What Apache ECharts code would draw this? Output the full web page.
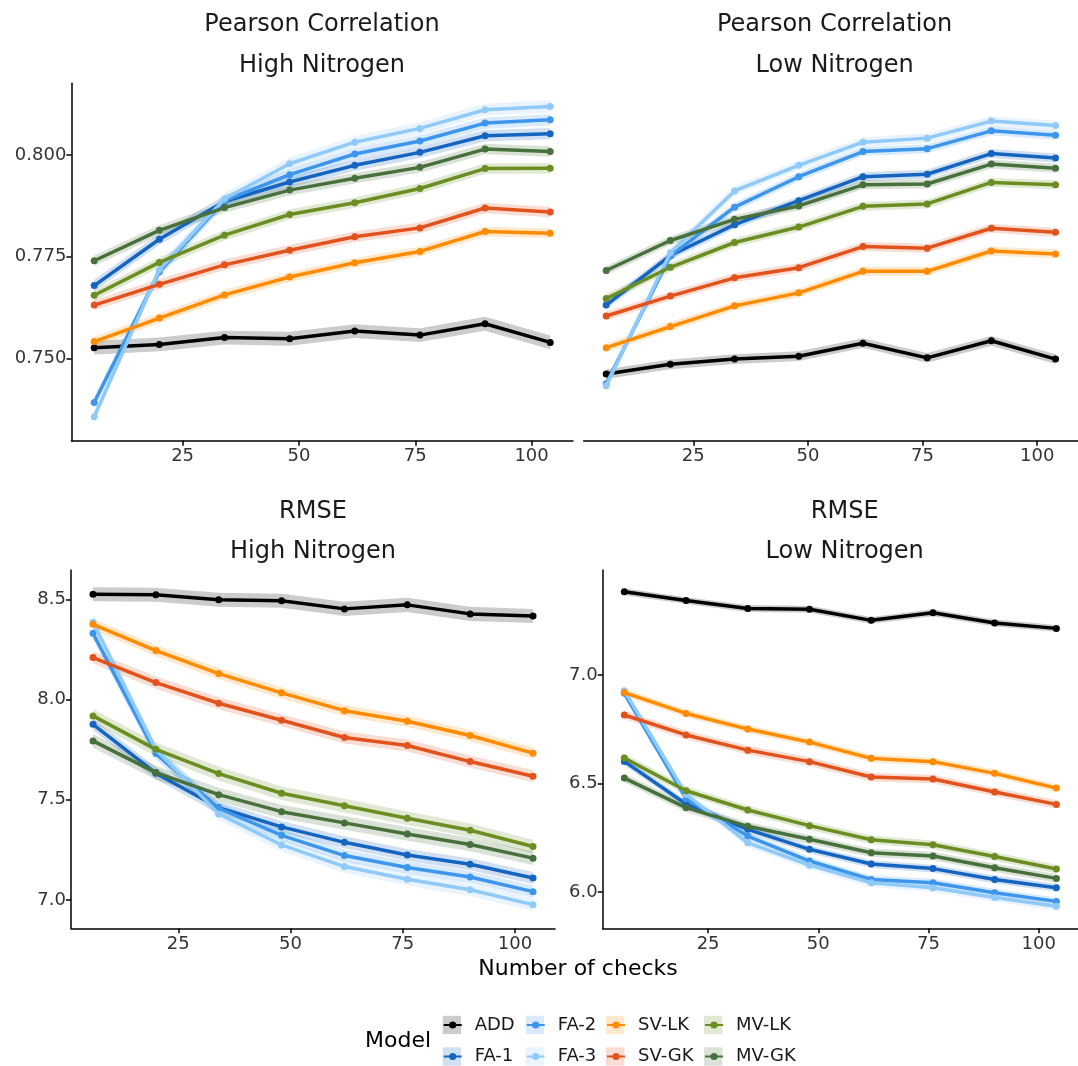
<!DOCTYPE html>
<html><head><meta charset="utf-8">
<script src="https://cdn.jsdelivr.net/npm/echarts@6/dist/echarts.min.js"></script>
<style>html,body{margin:0;padding:0;background:#fff}#c{width:1078px;height:1066px}</style>
</head><body><div id="c"></div>
<script>
// ---------- data ----------
const checks = [6, 20, 34, 48, 62, 76, 90, 104];
const models = ['ADD', 'FA-1', 'FA-2', 'FA-3', 'SV-LK', 'SV-GK', 'MV-LK', 'MV-GK'];
const modelColors = ['#000000', '#1565C0', '#3D96EC', '#90CAF9', '#FF8C00', '#E2521D', '#6B8E23', '#48703D'];

// Pearson correlation, High Nitrogen (one row per model)
const pearsonHigh = [
  [0.7526, 0.7534, 0.7551, 0.7548, 0.7567, 0.7557, 0.7585, 0.7539],
  [0.7679, 0.7793, 0.7886, 0.7934, 0.7975, 0.8007, 0.8048, 0.8053],
  [0.7391, 0.7713, 0.7888, 0.7952, 0.8003, 0.8035, 0.8079, 0.8087],
  [0.7356, 0.7718, 0.7892, 0.7979, 0.8032, 0.8066, 0.8112, 0.8120],
  [0.7541, 0.7599, 0.7656, 0.7700, 0.7735, 0.7763, 0.7812, 0.7808],
  [0.7631, 0.7682, 0.7730, 0.7766, 0.7799, 0.7821, 0.7870, 0.7860],
  [0.7655, 0.7736, 0.7803, 0.7854, 0.7883, 0.7918, 0.7967, 0.7968],
  [0.7740, 0.7815, 0.7871, 0.7914, 0.7943, 0.7970, 0.8015, 0.8009]
];
// Pearson correlation, Low Nitrogen
const pearsonLow = [
  [0.7461, 0.7485, 0.7498, 0.7505, 0.7537, 0.7501, 0.7543, 0.7498],
  [0.7631, 0.7753, 0.7829, 0.7888, 0.7947, 0.7953, 0.8004, 0.7993],
  [0.7437, 0.7752, 0.7872, 0.7947, 0.8009, 0.8016, 0.8060, 0.8049],
  [0.7432, 0.7760, 0.7912, 0.7975, 0.8032, 0.8042, 0.8084, 0.8073],
  [0.7526, 0.7578, 0.7629, 0.7661, 0.7714, 0.7714, 0.7764, 0.7757],
  [0.7604, 0.7653, 0.7698, 0.7723, 0.7775, 0.7771, 0.7820, 0.7810],
  [0.7647, 0.7724, 0.7785, 0.7823, 0.7874, 0.7880, 0.7933, 0.7927],
  [0.7716, 0.7790, 0.7842, 0.7875, 0.7927, 0.7929, 0.7978, 0.7968]
];
// RMSE, High Nitrogen
const rmseHigh = [
  [8.525, 8.523, 8.498, 8.492, 8.452, 8.472, 8.427, 8.417],
  [7.876, 7.632, 7.460, 7.364, 7.287, 7.224, 7.178, 7.109],
  [8.330, 7.730, 7.457, 7.322, 7.221, 7.161, 7.114, 7.041],
  [8.385, 7.750, 7.429, 7.274, 7.166, 7.103, 7.050, 6.976],
  [8.375, 8.244, 8.129, 8.033, 7.944, 7.891, 7.820, 7.732],
  [8.209, 8.084, 7.981, 7.896, 7.810, 7.770, 7.690, 7.617],
  [7.918, 7.751, 7.630, 7.532, 7.470, 7.407, 7.347, 7.266],
  [7.793, 7.635, 7.525, 7.440, 7.384, 7.329, 7.276, 7.208]
];
// RMSE, Low Nitrogen
const rmseLow = [
  [7.384, 7.343, 7.307, 7.303, 7.252, 7.287, 7.240, 7.215],
  [6.602, 6.406, 6.289, 6.197, 6.129, 6.108, 6.058, 6.020],
  [6.916, 6.430, 6.258, 6.143, 6.058, 6.043, 5.997, 5.957],
  [6.928, 6.450, 6.227, 6.124, 6.043, 6.020, 5.975, 5.935],
  [6.919, 6.823, 6.751, 6.691, 6.616, 6.601, 6.547, 6.479],
  [6.816, 6.724, 6.654, 6.601, 6.530, 6.521, 6.461, 6.404],
  [6.618, 6.467, 6.378, 6.306, 6.241, 6.218, 6.164, 6.106],
  [6.525, 6.389, 6.303, 6.243, 6.181, 6.166, 6.112, 6.063]
];
// confidence band half-widths (per model)
const ciPearsonHigh = [0.0017, 0.0014, 0.0014, 0.0015, 0.0012, 0.0013, 0.0013, 0.0013];
const ciPearsonLow  = [0.0012, 0.0011, 0.0011, 0.0012, 0.0011, 0.0011, 0.0011, 0.0011];
const ciRmseHigh    = [0.035, 0.030, 0.030, 0.032, 0.028, 0.030, 0.034, 0.034];
const ciRmseLow     = [0.016, 0.018, 0.018, 0.020, 0.018, 0.020, 0.020, 0.020];

const xTicks = [25, 50, 75, 100];
const pearsonTicks = [0.750, 0.775, 0.800];
const rmseHighTicks = [7.0, 7.5, 8.0, 8.5];
const rmseLowTicks = [6.0, 6.5, 7.0];

const panelTitles = ['Pearson Correlation\nHigh Nitrogen', 'Pearson Correlation\nLow Nitrogen', 'RMSE\nHigh Nitrogen', 'RMSE\nLow Nitrogen'];

// ---------- layout ----------
const FONT = 'DejaVu Sans';
const grids = [
  {left: 71.4, top: 83.3, width: 501.6, height: 357.4},
  {left: 583.7, top: 83.3, width: 502, height: 357.4},
  {left: 71, top: 570, width: 484, height: 358.3},
  {left: 602.7, top: 570, width: 484, height: 358.3}
];
const panels = [
  {vals: pearsonHigh, ci: ciPearsonHigh, ymin: 0.7297, ymax: 0.8177, ticks: pearsonTicks, dec: 3, showY: true},
  {vals: pearsonLow, ci: ciPearsonLow, ymin: 0.7297, ymax: 0.8177, ticks: pearsonTicks, dec: 3, showY: false},
  {vals: rmseHigh, ci: ciRmseHigh, ymin: 6.858, ymax: 8.646, ticks: rmseHighTicks, dec: 1, showY: true},
  {vals: rmseLow, ci: ciRmseLow, ymin: 5.833, ymax: 7.484, ticks: rmseLowTicks, dec: 1, showY: true}
];

const axisLine = {show: true, lineStyle: {color: '#000', width: 1.5}};
const axisTick = {show: true, length: 5, lineStyle: {color: '#000', width: 1.5}};

const xAxes = grids.map((g, i) => ({
  type: 'value', gridIndex: i, min: 1.1, max: 108.9,
  axisLine: axisLine,
  axisTick: Object.assign({customValues: xTicks}, axisTick),
  axisLabel: {customValues: xTicks, fontFamily: FONT, fontSize: 18, color: '#333', margin: 7},
  splitLine: {show: false}
}));
const yAxes = panels.map((p, i) => ({
  type: 'value', gridIndex: i, min: p.ymin, max: p.ymax, show: p.showY,
  axisLine: axisLine,
  axisTick: Object.assign({customValues: p.ticks}, axisTick),
  axisLabel: {customValues: p.ticks, fontFamily: FONT, fontSize: 18, color: '#333', margin: 5,
    formatter: v => Number(v).toFixed(p.dec)},
  splitLine: {show: false}
}));

function ribbon(gi, vals, half, color) {
  return {
    type: 'custom', xAxisIndex: gi, yAxisIndex: gi, z: 1, silent: true,
    data: checks.map((x, k) => [x, vals[k] - half, vals[k] + half]),
    encode: {x: 0, y: [1, 2]},
    renderItem: function (params, api) {
      if (params.dataIndex !== 0) return null;
      const up = [], lo = [];
      for (let k = 0; k < checks.length; k++) {
        up.push(api.coord([checks[k], vals[k] + half]));
        lo.push(api.coord([checks[k], vals[k] - half]));
      }
      return {type: 'polygon', shape: {points: up.concat(lo.reverse())},
        style: {fill: color, opacity: 0.2}};
    }
  };
}

const series = [];
panels.forEach((p, gi) => {
  models.forEach((m, mi) => series.push(ribbon(gi, p.vals[mi], p.ci[mi], modelColors[mi])));
});
panels.forEach((p, gi) => {
  models.forEach((m, mi) => series.push({
    type: 'line', name: m, xAxisIndex: gi, yAxisIndex: gi, z: 3 + mi * 0.01,
    data: checks.map((x, k) => [x, p.vals[mi][k]]),
    symbol: 'circle', symbolSize: 7, showSymbol: true,
    lineStyle: {width: 3.5, color: modelColors[mi]},
    itemStyle: {color: modelColors[mi]},
    emphasis: {disabled: true}
  }));
});

// titles
const titleCenters = [322, 834.6, 313, 844.7];
const titles = panelTitles.map((t, i) => ({
  text: t, left: titleCenters[i], top: i < 2 ? 4.5 : 492, padding: 0,
  textAlign: 'center', textVerticalAlign: 'top',
  textStyle: {fontFamily: FONT, fontSize: 24, fontWeight: 'normal', color: '#1a1a1a', lineHeight: i < 2 ? 41 : 40}
}));
titles.push({text: 'Number of checks', left: 578, top: 969, padding: 0, textAlign: 'center', textVerticalAlign: 'middle',
  textStyle: {fontFamily: FONT, fontSize: 22, fontWeight: 'normal', color: '#000'}});
titles.push({text: 'Model', left: 365, top: 1041.7, padding: 0, textAlign: 'left', textVerticalAlign: 'middle',
  textStyle: {fontFamily: FONT, fontSize: 22, fontWeight: 'normal', color: '#000'}});

// legend: 4 columns x 2 rows, column-major
const legColX = [442.7, 525.7, 606, 704];
const legRowY = [1025, 1056.5];
const legends = [];
const keyRects = [];
models.forEach((m, mi) => {
  const c = Math.floor(mi / 2), r = mi % 2;
  legends.push({
    data: [m], left: legColX[c], top: legRowY[r] - 10, padding: 0, orient: 'vertical',
    itemWidth: 18, itemHeight: 9, selectedMode: false,
    textStyle: {fontFamily: FONT, fontSize: 18, color: '#1a1a1a', lineHeight: 20, padding: [0, 0, 0, 8]}
  });
  keyRects.push({type: 'rect', z: -1, silent: true,
    shape: {x: legColX[c], y: legRowY[r] - 9.2, width: 18.3, height: 18.3},
    style: {fill: modelColors[mi], opacity: 0.2}});
});

const chart = echarts.init(document.getElementById('c'), null, {renderer: 'canvas'});
chart.setOption({
  animation: false,
  backgroundColor: '#fff',
  title: titles,
  legend: legends,
  grid: grids,
  xAxis: xAxes,
  yAxis: yAxes,
  series: series,
  graphic: {elements: keyRects}
});
</script></body></html>
